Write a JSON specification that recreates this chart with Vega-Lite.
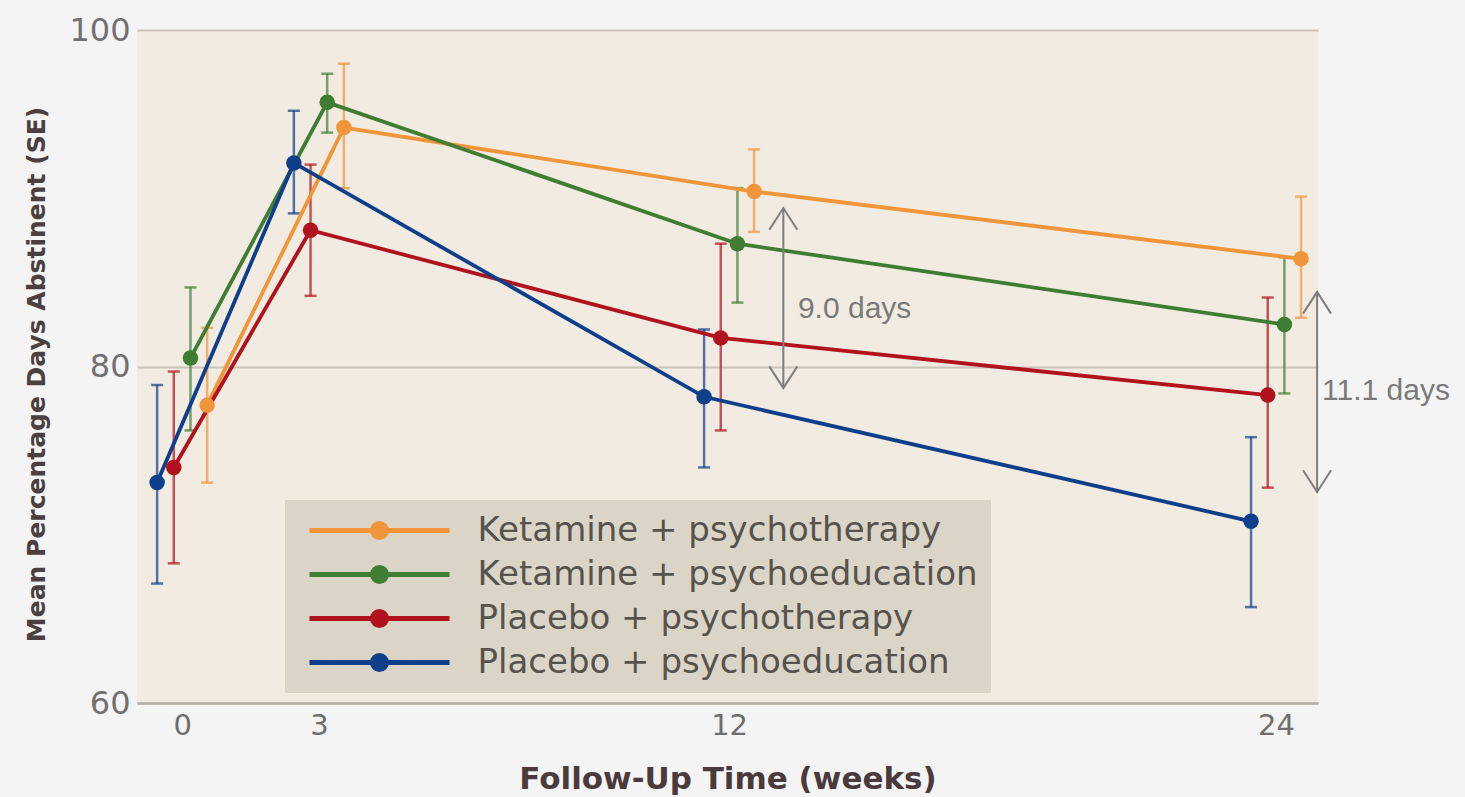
{
  "$schema": "https://vega.github.io/schema/vega-lite/v6.json",
  "width": 1181,
  "height": 673,
  "autosize": "none",
  "padding": {"left": 137, "top": 30, "right": 147, "bottom": 94},
  "background": "#f4f4f4",
  "config": {
    "font": "DejaVu Sans",
    "view": {"fill": "#f2ebe1", "stroke": null}
  },
  "datasets": {
    "means": [
      {"group": "Ketamine + psychotherapy", "week": 0, "mean": 77.7, "lo": 73.1, "hi": 82.3},
      {"group": "Ketamine + psychotherapy", "week": 3, "mean": 94.2, "lo": 90.6, "hi": 98.0},
      {"group": "Ketamine + psychotherapy", "week": 12, "mean": 90.4, "lo": 88.0, "hi": 92.9},
      {"group": "Ketamine + psychotherapy", "week": 24, "mean": 86.4, "lo": 82.9, "hi": 90.1},
      {"group": "Ketamine + psychoeducation", "week": 0, "mean": 80.5, "lo": 76.2, "hi": 84.7},
      {"group": "Ketamine + psychoeducation", "week": 3, "mean": 95.7, "lo": 93.9, "hi": 97.4},
      {"group": "Ketamine + psychoeducation", "week": 12, "mean": 87.3, "lo": 83.8, "hi": 90.6},
      {"group": "Ketamine + psychoeducation", "week": 24, "mean": 82.5, "lo": 78.4, "hi": 86.5},
      {"group": "Placebo + psychotherapy", "week": 0, "mean": 74.0, "lo": 68.3, "hi": 79.7},
      {"group": "Placebo + psychotherapy", "week": 3, "mean": 88.1, "lo": 84.2, "hi": 92.0},
      {"group": "Placebo + psychotherapy", "week": 12, "mean": 81.7, "lo": 76.2, "hi": 87.3},
      {"group": "Placebo + psychotherapy", "week": 24, "mean": 78.3, "lo": 72.8, "hi": 84.1},
      {"group": "Placebo + psychoeducation", "week": 0, "mean": 73.1, "lo": 67.1, "hi": 78.9},
      {"group": "Placebo + psychoeducation", "week": 3, "mean": 92.1, "lo": 89.1, "hi": 95.2},
      {"group": "Placebo + psychoeducation", "week": 12, "mean": 78.2, "lo": 74.0, "hi": 82.2},
      {"group": "Placebo + psychoeducation", "week": 24, "mean": 70.8, "lo": 65.7, "hi": 75.8}
    ],
    "arrows": [
      {"label": "9.0 days", "week": 13.19, "top": 89.42, "bottom": 78.72, "textWeek": 13.51, "textY": 83.42},
      {"label": "11.1 days", "week": 24.9, "top": 84.43, "bottom": 72.54, "textWeek": 25.01, "textY": 78.54}
    ],
    "heads": [
      {"week": 13.19, "y": 89.42, "dir": "up"},
      {"week": 13.19, "y": 78.72, "dir": "down"},
      {"week": 24.9, "y": 84.43, "dir": "up"},
      {"week": 24.9, "y": 72.54, "dir": "down"}
    ]
  },
  "encoding": {
    "x": {
      "field": "week", "type": "quantitative",
      "scale": {"domain": [-0.99, 24.92], "nice": false, "zero": false},
      "axis": {
        "values": [0, 3, 12, 24], "ticks": false, "grid": false,
        "domain": true, "domainColor": "#b5b0a7", "domainWidth": 2.5,
        "labelFontSize": 29, "labelColor": "#6e6e6e", "labelPadding": 8,
        "title": "Follow-Up Time (weeks)", "titleFontSize": 31, "titleFontWeight": "bold",
        "titleColor": "#4a3a3c", "titleBaseline": "alphabetic", "titleY": 85
      }
    }
  },
  "layer": [
    {
      "data": {"name": "means"},
      "mark": {"type": "rule", "strokeWidth": 2.5, "opacity": 0.7, "xOffset": {"expr": "indexof(['Placebo + psychoeducation','Placebo + psychotherapy','Ketamine + psychoeducation','Ketamine + psychotherapy'], datum.group) * 16.67 - 25"}},
      "encoding": {
        "y": {
          "field": "lo", "type": "quantitative",
          "scale": {"domain": [60, 100], "nice": false, "zero": false},
          "axis": {
            "values": [60, 80, 100], "ticks": false, "domain": false, "grid": true,
            "gridColor": "#c9c3b8", "gridWidth": 2,
            "labelFontSize": 32, "labelColor": "#707070", "labelPadding": 7,
            "title": "Mean Percentage Days Abstinent (SE)", "titleFontSize": 25, "titleFontWeight": "bold",
            "titleColor": "#4a4040", "titleX": -101, "titleY": 344, "titleBaseline": "middle", "titleAlign": "center"
          }
        },
        "y2": {"field": "hi"},
        "color": {"field": "group", "type": "nominal"}
      }
    },
    {
      "data": {"name": "means"},
      "mark": {"type": "point", "shape": "M-1,0H1", "size": 144, "filled": false, "strokeWidth": 2.5, "opacity": 0.7, "xOffset": {"expr": "indexof(['Placebo + psychoeducation','Placebo + psychotherapy','Ketamine + psychoeducation','Ketamine + psychotherapy'], datum.group) * 16.67 - 25"}},
      "encoding": {
        "y": {"field": "hi", "type": "quantitative"},
        "color": {"field": "group", "type": "nominal"}
      }
    },
    {
      "data": {"name": "means"},
      "mark": {"type": "point", "shape": "M-1,0H1", "size": 144, "filled": false, "strokeWidth": 2.5, "opacity": 0.7, "xOffset": {"expr": "indexof(['Placebo + psychoeducation','Placebo + psychotherapy','Ketamine + psychoeducation','Ketamine + psychotherapy'], datum.group) * 16.67 - 25"}},
      "encoding": {
        "y": {"field": "lo", "type": "quantitative"},
        "color": {"field": "group", "type": "nominal"}
      }
    },
    {
      "data": {"name": "means"},
      "mark": {"type": "line", "strokeWidth": 3.8, "xOffset": {"expr": "indexof(['Placebo + psychoeducation','Placebo + psychotherapy','Ketamine + psychoeducation','Ketamine + psychotherapy'], datum.group) * 16.67 - 25"}},
      "encoding": {
        "y": {"field": "mean", "type": "quantitative"},
        "color": {"field": "group", "type": "nominal"},
        "order": {"field": "week", "type": "quantitative"}
      }
    },
    {
      "data": {"name": "means"},
      "mark": {"type": "point", "filled": true, "size": 240, "opacity": 1, "xOffset": {"expr": "indexof(['Placebo + psychoeducation','Placebo + psychotherapy','Ketamine + psychoeducation','Ketamine + psychotherapy'], datum.group) * 16.67 - 25"}},
      "encoding": {
        "y": {"field": "mean", "type": "quantitative"},
        "color": {
          "field": "group", "type": "nominal",
          "scale": {
            "domain": ["Ketamine + psychotherapy", "Ketamine + psychoeducation", "Placebo + psychotherapy", "Placebo + psychoeducation"],
            "range": ["#f0953a", "#3f7d32", "#b0121e", "#0f3f8a"]
          },
          "legend": {
            "title": null, "orient": "none", "legendX": 148, "legendY": 470,
            "fillColor": "#dbd5c7", "padding": 13.5, "rowPadding": 10,
            "symbolType": "M-7,0H7M0.7,0A0.7,0.7,0,1,1,-0.7,0A0.7,0.7,0,1,1,0.7,0Z",
            "symbolSize": 400, "symbolStrokeWidth": 5, "symbolOffset": 64, "symbolOpacity": 1,
            "labelOffset": 81, "labelFontSize": 34, "labelColor": "#56534e", "labelFont": "DejaVu Sans",
            "labelLimit": 0,
            "encode": {
              "symbols": {
                "update": {
                  "fill": {"signal": "scale('color', datum.value)"},
                  "stroke": {"signal": "scale('color', datum.value)"},
                  "strokeWidth": {"value": 5},
                  "opacity": {"value": 1},
                  "fillOpacity": {"value": 1},
                  "strokeOpacity": {"value": 1}
                }
              }
            }
          }
        }
      }
    },
    {
      "data": {"name": "arrows"},
      "mark": {"type": "rule", "color": "#7d7d7d", "strokeWidth": 2},
      "encoding": {
        "x": {"field": "week", "type": "quantitative"},
        "y": {"field": "top", "type": "quantitative"},
        "y2": {"field": "bottom"}
      }
    },
    {
      "data": {"name": "heads"},
      "mark": {"type": "point", "filled": false, "size": 784, "strokeWidth": 2, "color": "#7d7d7d", "opacity": 1},
      "encoding": {
        "x": {"field": "week", "type": "quantitative"},
        "y": {"field": "y", "type": "quantitative"},
        "shape": {"field": "dir", "type": "nominal", "scale": {"domain": ["up", "down"], "range": ["M-1,1.55L0,0L1,1.55", "M-1,-1.55L0,0L1,-1.55"]}, "legend": null}
      }
    },
    {
      "data": {"name": "arrows"},
      "mark": {"type": "text", "align": "left", "baseline": "middle", "font": "Liberation Sans", "fontSize": 30, "color": "#7a7a7a"},
      "encoding": {
        "x": {"field": "textWeek", "type": "quantitative"},
        "y": {"field": "textY", "type": "quantitative"},
        "text": {"field": "label"}
      }
    }
  ]
}
